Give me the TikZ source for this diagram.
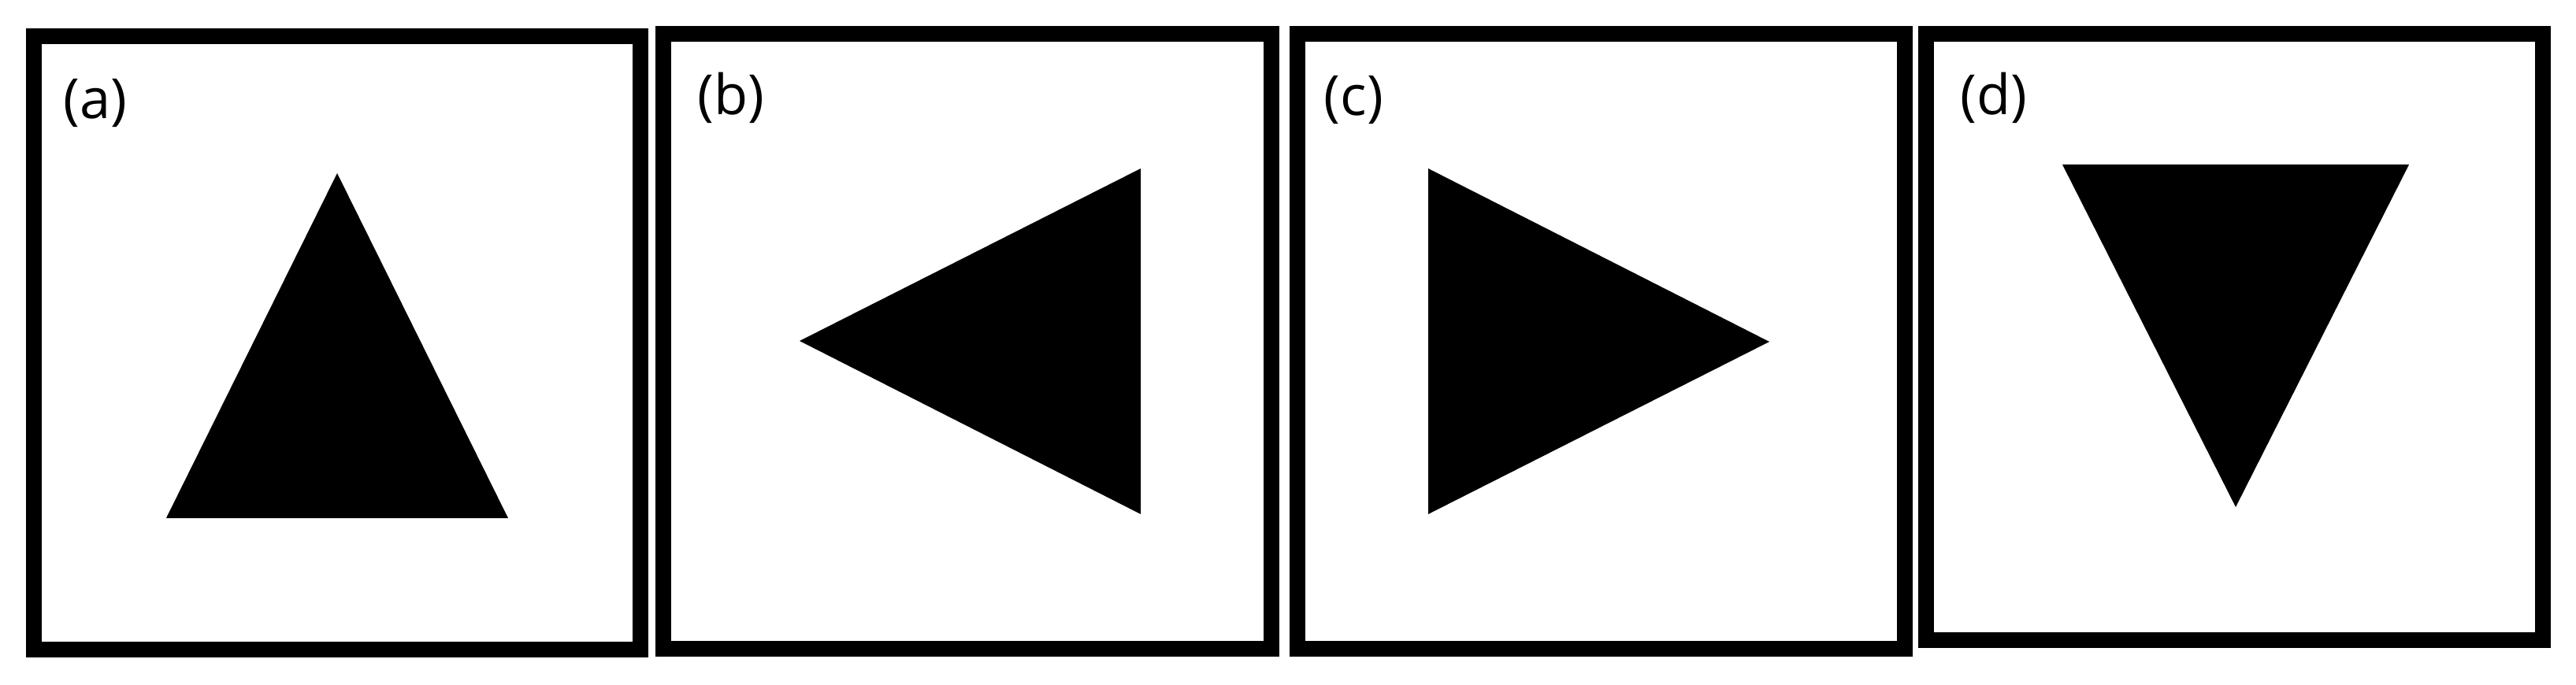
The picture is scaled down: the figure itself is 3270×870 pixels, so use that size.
\documentclass[tikz,border=0pt]{standalone}
\usepackage{fontspec}
\setmainfont{Open Sans}

\begin{document}
\begin{tikzpicture}[x=0.01cm, y=-0.01cm,
    frame/.style={draw=black, line width=0.2cm, fill=white},
    tri/.style={fill=black, draw=none},
    lbl/.style={anchor=base west, inner sep=0pt, font=\fontsize{20}{24}\selectfont}]
  \useasboundingbox (0,0) rectangle (3270,870);
  % frames
  \draw[frame] (43,46) rectangle (813,825);
  \draw[frame] (842,43) rectangle (1614,824);
  \draw[frame] (1647,43) rectangle (2418,824);
  \draw[frame] (2445,43) rectangle (3228,813);
  % labels
  \node[lbl] (la) at (80,150) {(a)};
  \node[lbl] (lb) at (885,146) {(b)};
  \node[lbl] (lc) at (1680,147) {(c)};
  \node[lbl] (ld) at (2488,146) {(d)};
  % triangles
  \fill[tri] (428,220) -- (645,658) -- (211,658) -- cycle;
  \fill[tri] (1015,433) -- (1448,214) -- (1448,653) -- cycle;
  \fill[tri] (1813,214) -- (2246,434) -- (1813,653) -- cycle;
  \fill[tri] (2618,209) -- (3058,209) -- (2838,644) -- cycle;
\end{tikzpicture}
\end{document}
